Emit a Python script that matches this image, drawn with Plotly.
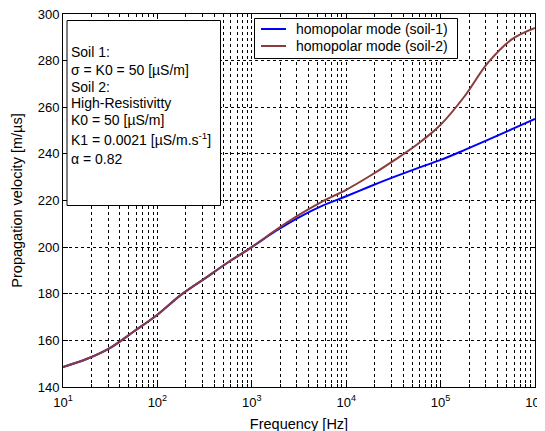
import plotly.graph_objects as go

freq = [1e1, 10**1.25, 10**1.5, 10**1.75, 1e2, 10**2.25, 10**2.5, 10**2.75, 1e3,
        10**3.25, 10**3.5, 10**3.75, 1e4, 10**4.25, 10**4.5, 10**4.75, 1e5,
        10**5.25, 10**5.5, 10**5.75, 1e6]
soil1 = [148.6, 152.0, 156.8, 163.8, 171.0, 179.5, 186.5, 193.5, 200.0,
         206.8, 212.8, 217.8, 221.8, 226.0, 230.0, 233.8, 237.4,
         241.6, 246.0, 250.5, 255.0]
soil2 = [148.6, 152.0, 156.8, 163.8, 171.0, 179.5, 186.5, 193.5, 200.0,
         207.2, 213.8, 219.6, 224.6, 230.5, 237.0, 244.0, 252.5,
         264.5, 279.0, 289.0, 294.0]
series_names = ["homopolar mode (soil-1)", "homopolar mode (soil-2)"]
series_colors = ["#0000ff", "#8a3c3c"]
x_major = [1e1, 1e2, 1e3, 1e4, 1e5, 1e6]
x_major_text = ["10<sup>1</sup>", "10<sup>2</sup>", "10<sup>3</sup>",
                "10<sup>4</sup>", "10<sup>5</sup>", "10<sup>6</sup>"]
y_ticks = [140, 160, 180, 200, 220, 240, 260, 280, 300]
box_lines = ["Soil 1:", "σ = K0 = 50 [µS/m]", "Soil 2:", "High-Resistivitty",
             "K0 = 50 [µS/m]", "K1 = 0.0021 [µS/m.s<sup>-1</sup>]", "α = 0.82"]

FONT = "Liberation Sans, Arial, sans-serif"
x_minor = [m * d for d in [1e1, 1e2, 1e3, 1e4, 1e5] for m in range(2, 10)]

fig = go.Figure()
for name, vals, col in zip(series_names, [soil1, soil2], series_colors):
    fig.add_trace(go.Scatter(x=freq, y=vals, mode="lines", name=name,
                             line=dict(color=col, width=2, shape="spline")))

# page body adds an 8px offset; screen plot area is x 63..535, y 14..387
OFF = 8
W, H = 545, 431
L, T = 63 - OFF, 14 - OFF
R = W - (535 - OFF)
B = H - (387 - OFF)
pw = W - L - R
ph = H - T - B

def px(p):
    return (p - OFF - L) / pw

def py(p):
    return 1 - (p - OFF - T) / ph

# text box
fig.add_shape(type="rect", xref="paper", yref="paper",
              x0=px(67), x1=px(220.5), y0=py(205.5), y1=py(20.5),
              line=dict(color="black", width=1), fillcolor="white", layer="above")
line_y = [52, 70, 87, 103, 120, 139, 159]
for txt, yy in zip(box_lines, line_y):
    fig.add_annotation(text=txt, xref="paper", yref="paper",
                       x=px(68.5), y=py(yy), xanchor="left", yanchor="middle",
                       showarrow=False, font=dict(family=FONT, size=14, color="black"))

# legend box (drawn to match the reference layout)
fig.add_shape(type="rect", xref="paper", yref="paper",
              x0=px(254.5), x1=px(457.5), y0=py(58.5), y1=py(18.5),
              line=dict(color="black", width=1), fillcolor="white", layer="above")
for name, col, yy in zip(series_names, series_colors, [29, 46]):
    fig.add_shape(type="line", xref="paper", yref="paper",
                  x0=px(261), x1=px(286), y0=py(yy), y1=py(yy),
                  line=dict(color=col, width=2), layer="above")
    fig.add_annotation(text=name, xref="paper", yref="paper",
                       x=px(294), y=py(yy), xanchor="left", yanchor="middle",
                       showarrow=False, font=dict(family=FONT, size=14, color="black"))

fig.update_layout(
    width=W, height=H,
    margin=dict(l=L, r=R, t=T, b=B),
    paper_bgcolor="white", plot_bgcolor="white",
    font=dict(family=FONT, size=13, color="black"),
    showlegend=False,
    xaxis=dict(type="log", range=[1, 6], tickvals=x_major, ticktext=x_major_text,
               automargin=False, ticklabelstandoff=3, ticklabeloverflow="allow",
               showgrid=True, gridcolor="black", griddash="3px,3px", gridwidth=1,
               ticks="inside", ticklen=5, tickcolor="black",
               showline=True, linecolor="black", linewidth=1, mirror="ticks",
               zeroline=False,
               minor=dict(tickvals=x_minor, showgrid=True, gridcolor="black",
                          griddash="3px,3px", gridwidth=1, ticks="inside", ticklen=3,
                          tickcolor="black"),
               title=dict(text="Frequency [Hz]", font=dict(family=FONT, size=14.5), standoff=10),
               tickfont=dict(family=FONT, size=13)),
    yaxis=dict(range=[140, 300], tickvals=y_ticks, automargin=False,
               ticklabeloverflow="allow",
               showgrid=True, gridcolor="black", griddash="3px,3px", gridwidth=1,
               ticks="inside", ticklen=5, tickcolor="black",
               showline=True, linecolor="black", linewidth=1, mirror="ticks",
               zeroline=False,
               title=dict(text="Propagation velocity [m/µs]", font=dict(family=FONT, size=14.5), standoff=11),
               tickfont=dict(family=FONT, size=13)),
)

fig.write_html("out.html")
